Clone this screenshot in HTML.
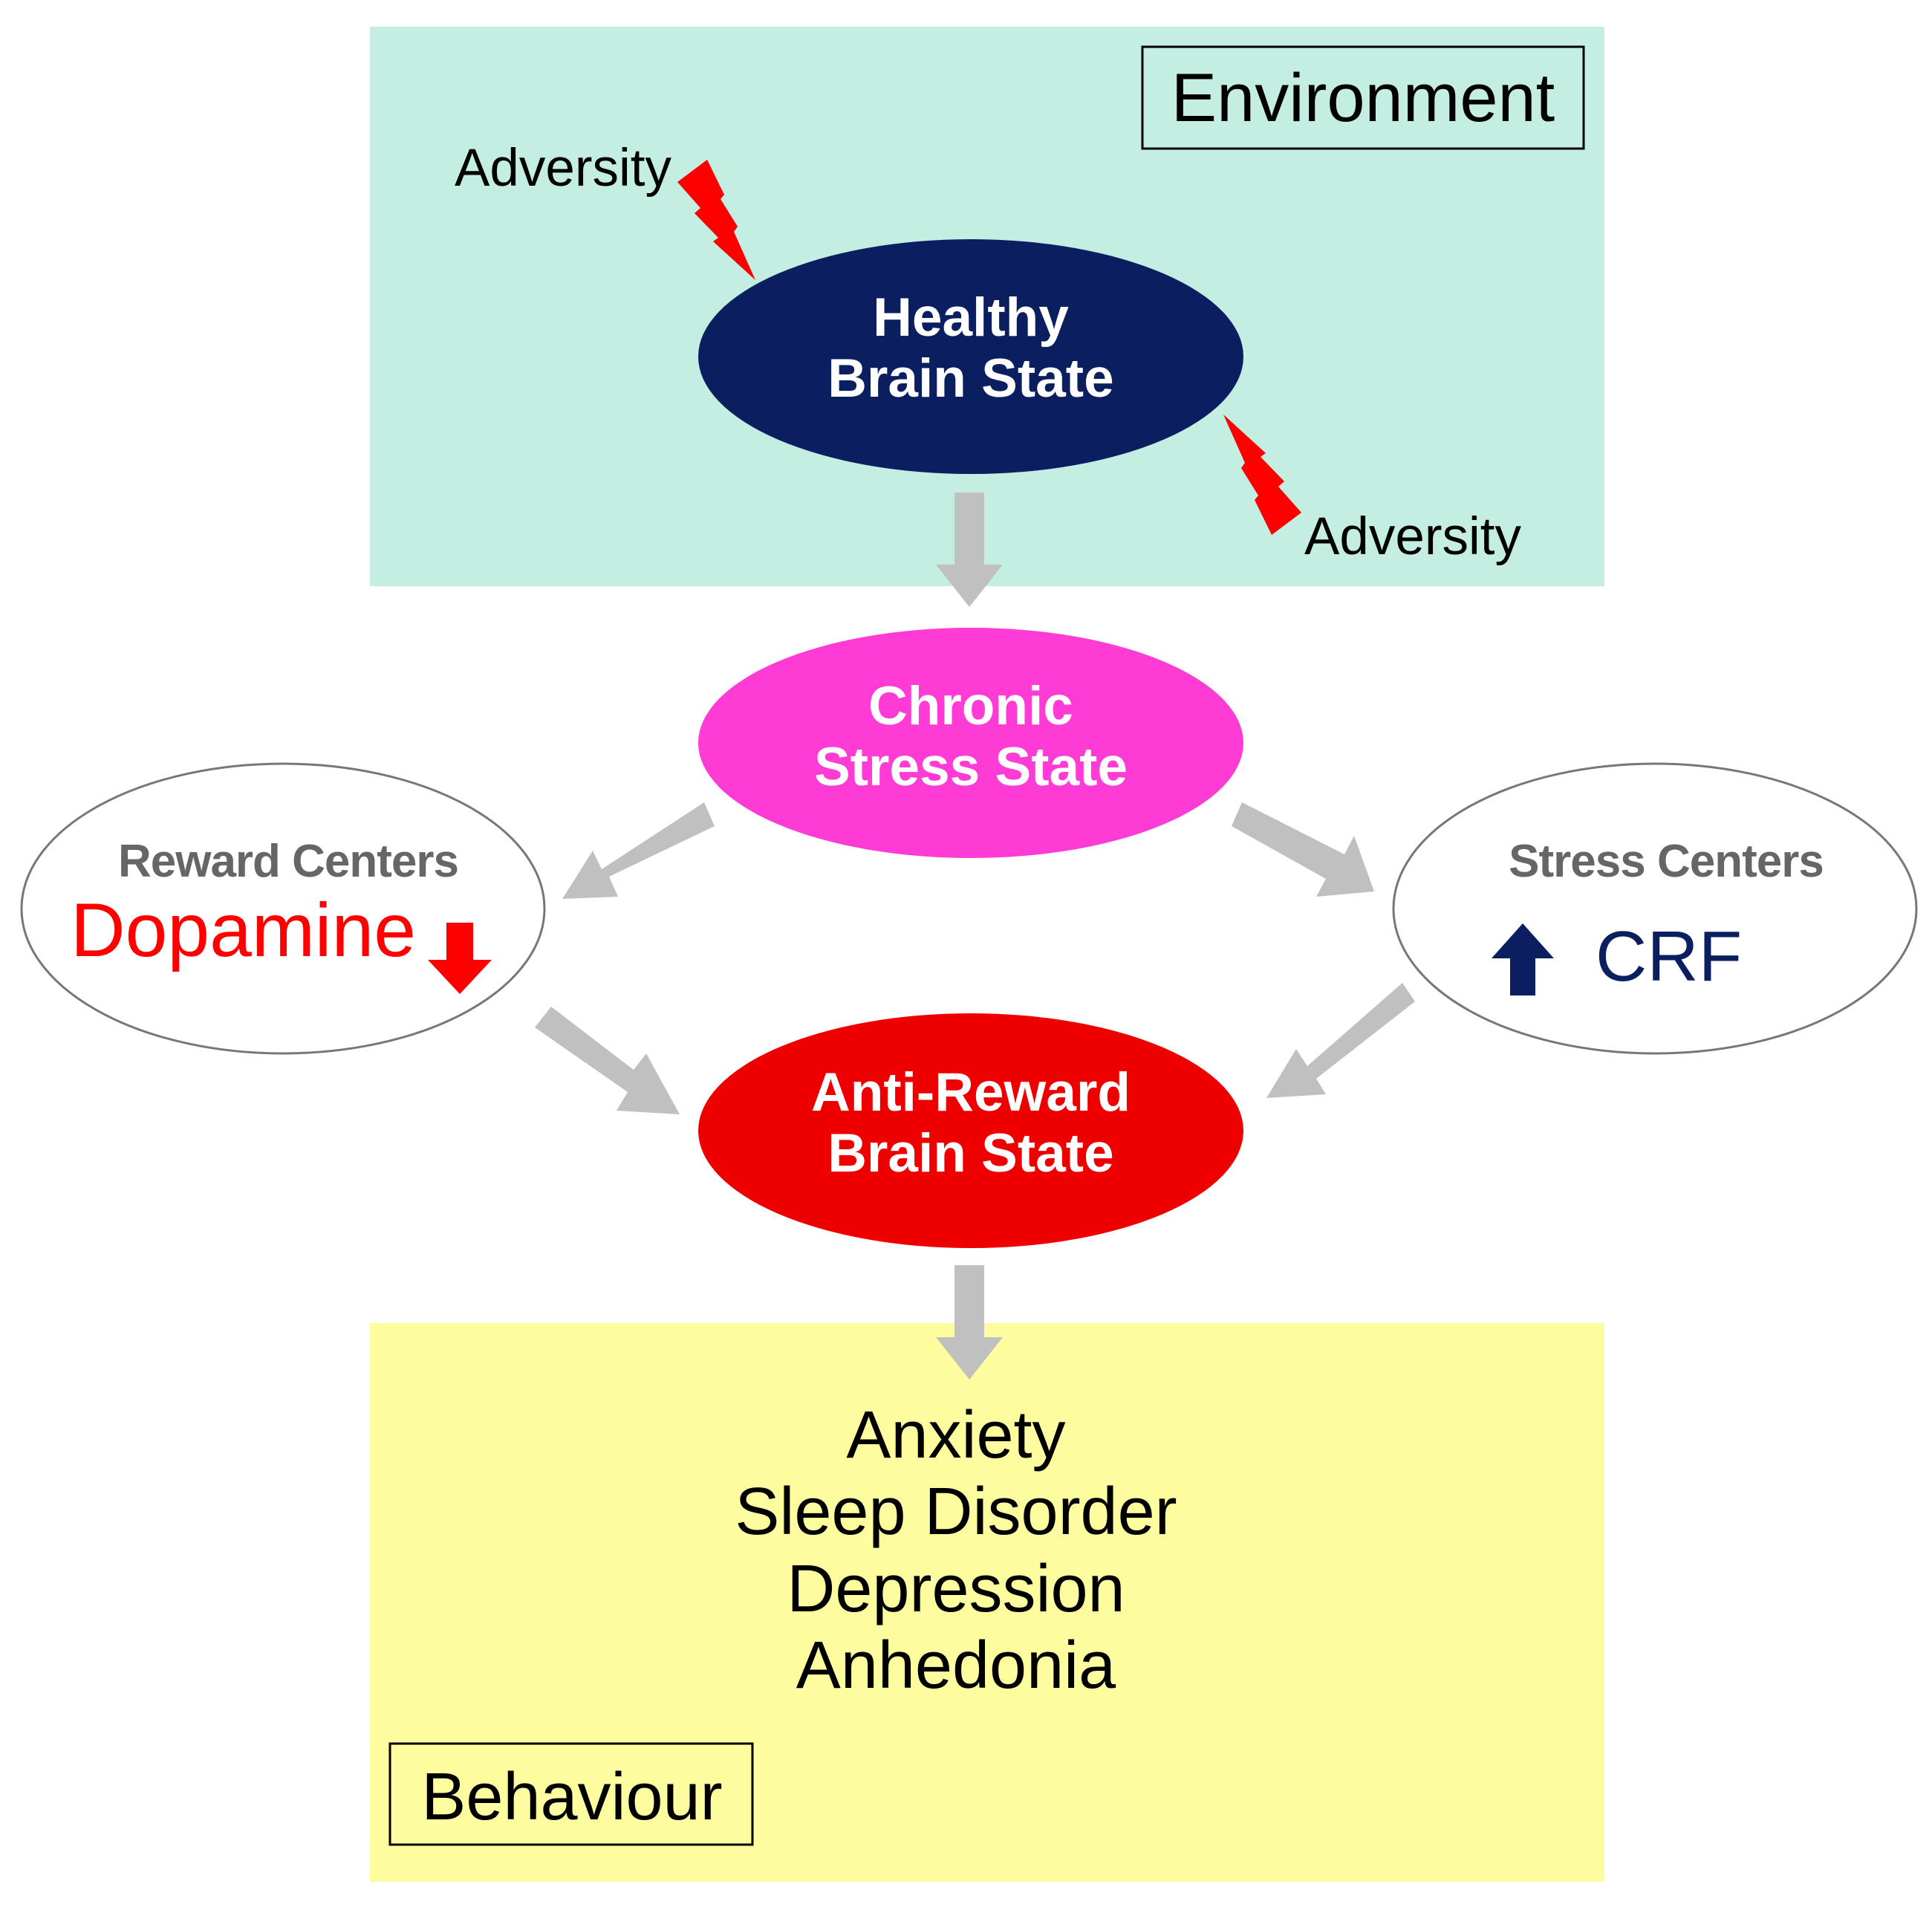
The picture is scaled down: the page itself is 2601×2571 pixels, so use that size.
<!DOCTYPE html>
<html><head><meta charset="utf-8"><style>
html,body{margin:0;padding:0;background:#fff}
svg{display:block}
text{font-family:"Liberation Sans",Arial,sans-serif}
</style></head><body>
<svg width="2601" height="2571" viewBox="0 0 2601 2571" xmlns="http://www.w3.org/2000/svg">
<rect x="498" y="36" width="1662" height="753" fill="#c4eee2"/>
<rect x="498" y="1781" width="1662" height="752" fill="#fdfda0"/>
<rect x="1538" y="63" width="594" height="137" fill="none" stroke="#000" stroke-width="3"/>
<text x="1835" y="163" font-size="92" text-anchor="middle">Environment</text>
<rect x="525" y="2347" width="488" height="136" fill="none" stroke="#000" stroke-width="3"/>
<text x="770" y="2449" font-size="90" text-anchor="middle">Behaviour</text>

<text x="758" y="250" font-size="71" text-anchor="middle">Adversity</text>
<text x="1902" y="746" font-size="71" text-anchor="middle">Adversity</text>
<!-- bolts -->
<polygon points="912,245 952,215 975,262 970,268 993,305 988,312 1017,377 960,325 967,320 935,287 943,280" fill="#ff0000"/>
<polygon transform="translate(2664,935) scale(-1,-1)" points="912,245 952,215 975,262 970,268 993,305 988,312 1017,377 960,325 967,320 935,287 943,280" fill="#ff0000"/>

<!-- gray arrows -->
<g fill="#c0c0c0">
<polygon points="1285,663 1325,663 1325,760 1350,760 1305,817 1260,760 1285,760"/>
<polygon points="1285,1703 1325,1703 1325,1800 1350,1800 1305,1857 1260,1800 1285,1800"/>
<polygon points="948,1080 962,1112 820,1180 832,1207 757,1210 798,1145 810,1170"/>
<polygon points="1658,1112 1672,1080 1810,1150 1823,1125 1850,1200 1772,1207 1785,1183"/>
<polygon points="720,1383 742,1355 853,1440 870,1418 915,1500 830,1495 845,1470"/>
<polygon points="1888,1323 1905,1348 1772,1452 1785,1473 1705,1478 1745,1412 1760,1435"/>
</g>

<ellipse cx="1307" cy="480" rx="367" ry="158" fill="#0b1f60"/>
<text x="1307" y="452" font-size="73" font-weight="bold" fill="#fff" text-anchor="middle">Healthy</text>
<text x="1307" y="534" font-size="73" font-weight="bold" fill="#fff" text-anchor="middle">Brain State</text>

<ellipse cx="1307" cy="1000" rx="367" ry="155" fill="#ff3bd6"/>
<text x="1307" y="975" font-size="73" font-weight="bold" fill="#fff" text-anchor="middle">Chronic</text>
<text x="1307" y="1057" font-size="73" font-weight="bold" fill="#fff" text-anchor="middle">Stress State</text>

<ellipse cx="1307" cy="1522" rx="367" ry="158" fill="#ee0000"/>
<text x="1307" y="1495" font-size="73" font-weight="bold" fill="#fff" text-anchor="middle">Anti-Reward</text>
<text x="1307" y="1577" font-size="73" font-weight="bold" fill="#fff" text-anchor="middle">Brain State</text>

<ellipse cx="381" cy="1223" rx="352" ry="195" fill="#fff" stroke="#777" stroke-width="3"/>
<text x="388" y="1180" font-size="62" font-weight="bold" fill="#666" text-anchor="middle" letter-spacing="-1">Reward Centers</text>
<text x="95" y="1287" font-size="102" fill="#ff0000">Dopamine</text>
<polygon points="601,1242 637,1242 637,1292 662,1292 619,1338 576,1292 601,1292" fill="#ff0000"/>

<ellipse cx="2228" cy="1223" rx="352" ry="195" fill="#fff" stroke="#777" stroke-width="3"/>
<text x="2243" y="1180" font-size="62" font-weight="bold" fill="#666" text-anchor="middle" letter-spacing="-1">Stress Centers</text>
<polygon points="2033,1340 2067,1340 2067,1290 2092,1290 2050,1243 2008,1290 2033,1290" fill="#0b1f60"/>
<text x="2148" y="1320" font-size="96" fill="#0b1f60">CRF</text>

<g font-size="90" text-anchor="middle">
<text x="1287" y="1962">Anxiety</text>
<text x="1287" y="2065">Sleep Disorder</text>
<text x="1287" y="2169">Depression</text>
<text x="1287" y="2272">Anhedonia</text>
</g>
</svg>
</body></html>
